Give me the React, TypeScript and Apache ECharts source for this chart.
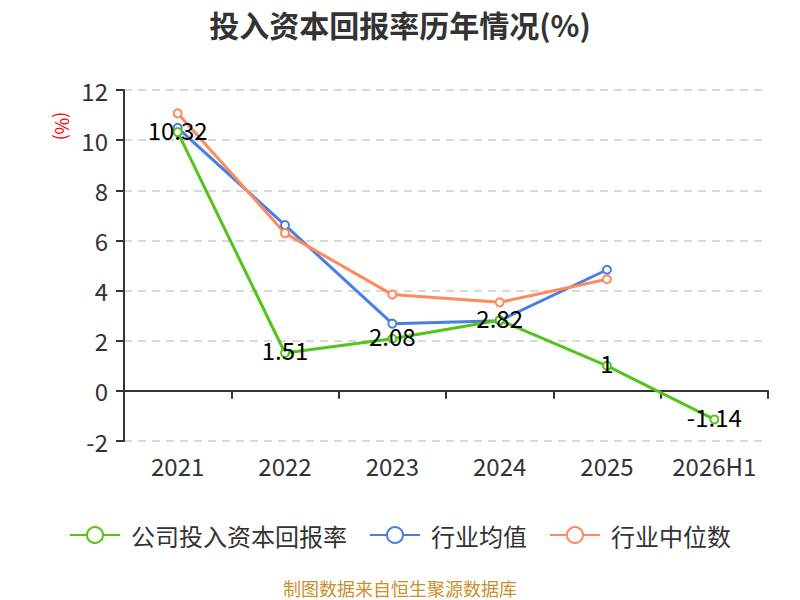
import { useEffect, useRef } from "react";
import * as echarts from "echarts";

const categories = ["2021", "2022", "2023", "2024", "2025", "2026H1"];
const companyValues = [10.32, 1.51, 2.08, 2.82, 1, -1.14];
const industryMean = [10.49, 6.61, 2.68, 2.8, 4.83, null];
const industryMedian = [11.07, 6.29, 3.84, 3.53, 4.45, null];
const seriesNames = ["公司投入资本回报率", "行业均值", "行业中位数"];
const COLORS = ["#52C41A", "#4A7EE6", "#FF8A5B"];

const FONT = "'Noto Sans CJK SC', 'Noto Sans', sans-serif";

export default function App() {
  const ref = useRef<HTMLDivElement | null>(null);

  useEffect(() => {
    if (!ref.current) return;
    const chart = echarts.init(ref.current, undefined, { renderer: "svg" });
    const lineSeries = (name: string, data: any[], color: string, withLabel: boolean, z: number) => ({
      name,
      type: "line",
      data,
      z,
      symbol: "emptyCircle",
      symbolSize: 8,
      connectNulls: false,
      lineStyle: { width: 3, color },
      itemStyle: { color, borderWidth: 2 },
      label: withLabel
        ? {
            show: true,
            position: "inside",
            offset: [0, -3],
            color: "#000",
            fontSize: 24,
            fontFamily: FONT,
          }
        : { show: false },
    });
    chart.setOption({
      animation: false,
      textStyle: { fontFamily: FONT },
      color: COLORS,
      title: {
        text: "投入资本回报率历年情况(%)",
        left: "center",
        top: 4,
        textStyle: { fontSize: 30, fontWeight: "bold", color: "#333", fontFamily: FONT },
      },
      legend: {
        top: 518,
        left: "center",
        itemWidth: 50,
        itemHeight: 20,
        itemGap: 22,
        textStyle: { fontSize: 24, color: "#333", fontFamily: FONT, padding: [0, 0, 0, 6] },
        data: seriesNames,
      },
      grid: { left: 124, right: 32, top: 90, bottom: 159, containLabel: false },
      xAxis: {
        type: "category",
        data: categories,
        boundaryGap: true,
        axisLine: { onZero: true, lineStyle: { color: "#333", width: 2 } },
        axisTick: { show: true, length: 8, interval: 0, lineStyle: { color: "#333", width: 2 } },
        axisLabel: { margin: 12, interval: 0, fontSize: 24, color: "#333", fontFamily: FONT },
      },
      yAxis: {
        type: "value",
        min: -2,
        max: 12,
        interval: 2,
        axisLine: { show: true, lineStyle: { color: "#333", width: 2 } },
        axisTick: { show: true, length: 8, lineStyle: { color: "#333", width: 2 } },
        axisLabel: { margin: 16, fontSize: 24, color: "#333", fontFamily: FONT },
        splitLine: { show: true, lineStyle: { type: [8, 6], color: "#ccc", width: 1.5 } },
      },
      graphic: [
        {
          type: "text",
          x: 63,
          y: 126,
          rotation: -Math.PI / 2,
          style: {
            text: "(%)",
            fill: "#ff0000",
            fontSize: 18,
            fontFamily: FONT,
            align: "center",
            verticalAlign: "middle",
          },
        },
        {
          type: "text",
          x: 400,
          y: 588,
          style: {
            text: "制图数据来自恒生聚源数据库",
            fill: "#C9902A",
            fontSize: 18,
            fontFamily: FONT,
            align: "center",
            verticalAlign: "middle",
          },
        },
      ],
      series: [
        lineSeries(seriesNames[1], industryMean, COLORS[1], false, 2),
        lineSeries(seriesNames[2], industryMedian, COLORS[2], false, 2),
        lineSeries(seriesNames[0], companyValues, COLORS[0], true, 3),
      ],
    });
    const onResize = () => chart.resize();
    window.addEventListener("resize", onResize);
    return () => {
      window.removeEventListener("resize", onResize);
      chart.dispose();
    };
  }, []);

  return (
    <div
      ref={ref}
      style={{ position: "absolute", left: 0, top: 0, width: 800, height: 600 }}
    />
  );
}
